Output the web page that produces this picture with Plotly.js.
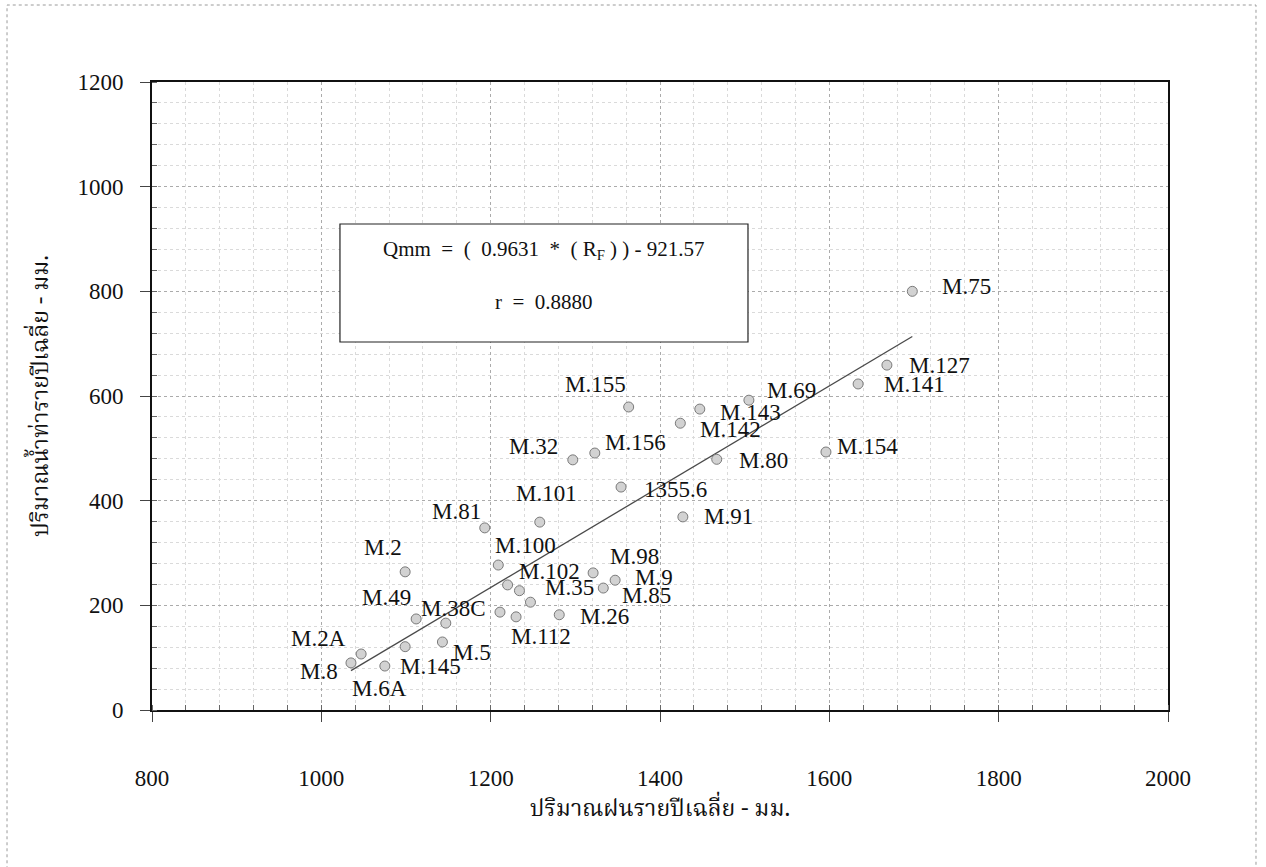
<!DOCTYPE html>
<html>
<head>
<meta charset="utf-8">
<script src="https://cdn.plot.ly/plotly-3.0.1.min.js"></script>
<style>
  html, body { margin: 0; padding: 0; background: #ffffff; }
  #chart { width: 1266px; height: 867px; }
</style>
</head>
<body>
<div id="chart"></div>
<script>
// Station names, mean annual rainfall (mm) and mean annual runoff (mm)
const stations = ["M.8", "M.2A", "M.6A", "M.145", "M.2", "M.49", "M.5", "M.38C",
  "M.81", "M.100", "", "M.102", "M.35", "", "M.112", "M.101", "M.26", "M.32",
  "M.98", "M.156", "M.85", "M.9", "1355.6", "M.155", "M.142", "M.91", "M.143",
  "M.80", "M.69", "M.154", "M.141", "M.127", "M.75"];
const rainfall = [1035, 1047, 1075, 1099, 1099, 1112, 1143, 1147,
  1193, 1209, 1211, 1220, 1234, 1247, 1230, 1258, 1281, 1297,
  1321, 1323, 1333, 1347, 1354, 1363, 1424, 1427, 1447,
  1467, 1505, 1596, 1634, 1668, 1698];
const runoff = [90, 107, 84, 121, 264, 174, 130, 166,
  348, 277, 187, 239, 228, 206, 178, 359, 182, 478,
  262, 491, 233, 248, 426, 579, 548, 369, 575,
  479, 592, 493, 623, 659, 800];

// Regression stated in the box
const slope = 0.9631;
const intercept = -921.57;
const rValue = "0.8880";

// Label placement next to each marker (pixels: dx, dy, anchor)
const labelDx = [-11, -13, -5, -7, -22, -3, 9, 8,
  -2, -5, 0, 9, 24, 0, 25, 7, 19, -13,
  15, 8, 17, 18, 21, -33, 18, 19, 18,
  20, 16, 9, 24, 20, 28];
const labelDy = [-9, 16, -22, -20, 24, 21, -11, 15,
  16, 20, 0, 13, 3, 0, -20, 29, -2, 13,
  16, 11, -7, 3, -2, 22, -6, 0, -3,
  -1, 10, 6, -1, 0, 5];
const labelAnchor = ["right", "right", "center", "left", "center", "right", "left", "center",
  "right", "left", "left", "left", "left", "left", "center", "center", "left", "right",
  "left", "left", "left", "left", "left", "center", "left", "left", "left",
  "left", "left", "left", "left", "left", "left"];

const xTitle = "ปริมาณฝนรายปีเฉลี่ย - มม.";
const yTitle = "ปริมาณน้ำท่ารายปีเฉลี่ย - มม.";

const serif = "Liberation Serif, Times New Roman, serif";
const thai = "Noto Serif Thai, Noto Sans Thai, Liberation Serif, serif";
const gap = "\u00a0\u00a0";

const xMin = Math.min(...rainfall);
const xMax = Math.max(...rainfall);

const points = {
  type: "scatter",
  mode: "markers",
  x: rainfall,
  y: runoff,
  marker: { symbol: "circle", size: 10, color: "#d2d2d2", line: { color: "#7a7a7a", width: 1 } },
  hoverinfo: "x+y",
  showlegend: false
};

const fitLine = {
  type: "scatter",
  mode: "lines",
  x: [xMin, xMax],
  y: [slope * xMin + intercept, slope * xMax + intercept],
  line: { color: "#4a4a4a", width: 1.3 },
  hoverinfo: "skip",
  showlegend: false
};

const labels = stations.map((s, i) => ({
  x: rainfall[i], y: runoff[i], xref: "x", yref: "y",
  text: s, showarrow: false,
  xanchor: labelAnchor[i], yanchor: "middle",
  xshift: labelDx[i], yshift: labelDy[i],
  font: { family: serif, size: 23, color: "#111111" }
})).filter(a => a.text !== "");

const gridCommon = {
  showgrid: true, gridcolor: "#ababab", griddash: "dot", gridwidth: 1,
  showline: true, linecolor: "#111111", linewidth: 2, mirror: true,
  ticks: "outside", ticklen: 10, tickcolor: "#444444", tickwidth: 1,
  zeroline: false,
  tickfont: { family: serif, size: 23, color: "#111111" }
};

const minorGrid = { dtick: 40, showgrid: true, gridcolor: "#dadada", griddash: "dot",
  ticks: "inside", ticklen: 5, tickcolor: "#666666" };

const layout = {
  width: 1266, height: 867,
  margin: { l: 152, r: 98, t: 82, b: 157 },
  paper_bgcolor: "#ffffff", plot_bgcolor: "#ffffff",
  xaxis: Object.assign({}, gridCommon, {
    range: [800, 2000], dtick: 200, tick0: 800,
    ticklabelstandoff: 36,
    minor: minorGrid,
    title: { text: xTitle, font: { family: thai, size: 23, color: "#111111" }, standoff: 10 }
  }),
  yaxis: Object.assign({}, gridCommon, {
    range: [0, 1200], dtick: 200, tick0: 0,
    ticklabelstandoff: 12,
    minor: minorGrid,
    title: { text: yTitle, font: { family: thai, size: 23, color: "#111111" }, standoff: 22 }
  }),
  shapes: [
    // equation box
    { type: "rect", xref: "paper", yref: "paper", x0: 0.185, x1: 0.5866, y0: 0.586, y1: 0.7739,
      line: { color: "#222222", width: 1.2 }, fillcolor: "#ffffff", layer: "above" },
    // page frame
    { type: "rect", xref: "paper", yref: "paper", x0: -0.1427, x1: 1.0866, y0: -0.35, y1: 1.1226,
      line: { color: "#9a9a9a", width: 1, dash: "dot" }, fillcolor: "rgba(0,0,0,0)" }
  ],
  annotations: labels.concat([
    { xref: "paper", yref: "paper", x: 0.386, y: 0.733, yanchor: "middle", showarrow: false,
      text: "Qmm" + gap + "=" + gap + "(" + gap + slope + gap + "*" + gap + "( R<sub>F</sub> ) ) - " + Math.abs(intercept),
      font: { family: serif, size: 21, color: "#111111" } },
    { xref: "paper", yref: "paper", x: 0.386, y: 0.65, yanchor: "middle", showarrow: false,
      text: "r" + gap + "=" + gap + rValue,
      font: { family: serif, size: 21, color: "#111111" } }
  ])
};

Plotly.newPlot("chart", [fitLine, points], layout, { displayModeBar: false, staticPlot: true });
</script>
</body>
</html>
